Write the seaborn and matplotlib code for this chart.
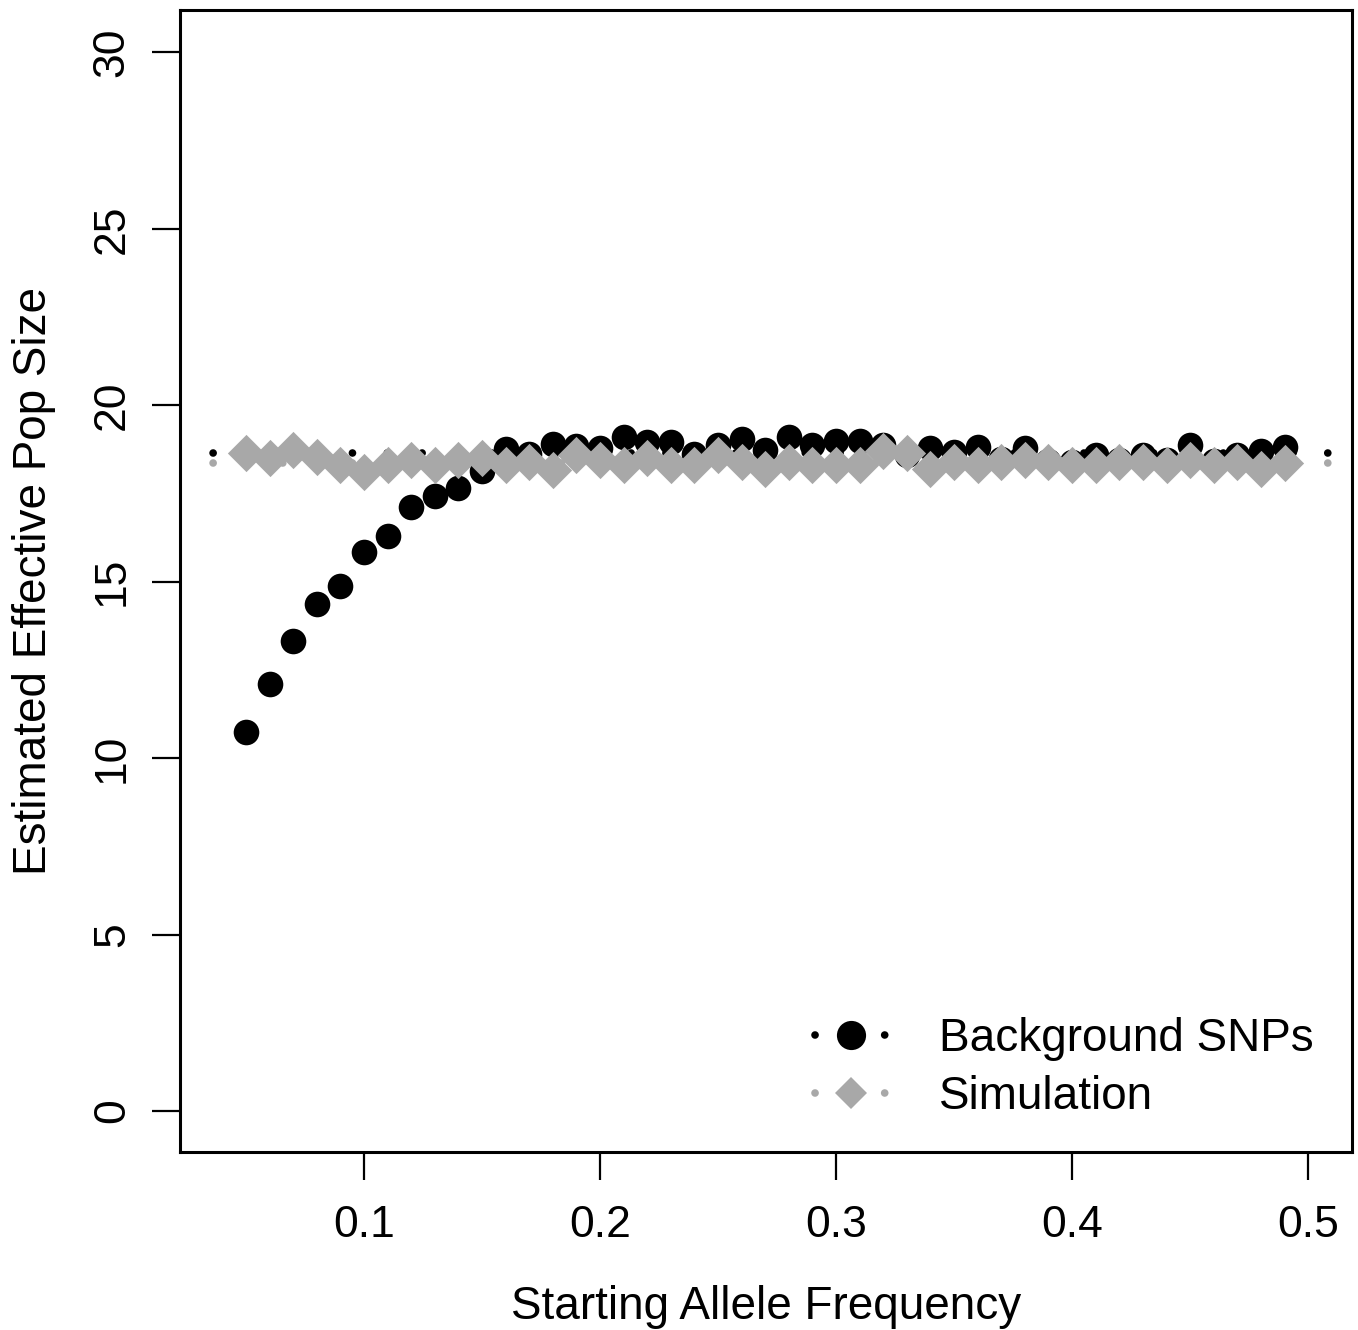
import numpy as np
import pandas as pd
import seaborn as sns
import matplotlib
matplotlib.use("Agg")
from matplotlib import pyplot as plt
from matplotlib.lines import Line2D

# starting allele frequency, 0.05 .. 0.49
freq = [0.05, 0.06, 0.07, 0.08, 0.09, 0.10, 0.11, 0.12, 0.13, 0.14,
        0.15, 0.16, 0.17, 0.18, 0.19, 0.20, 0.21, 0.22, 0.23, 0.24,
        0.25, 0.26, 0.27, 0.28, 0.29, 0.30, 0.31, 0.32, 0.33, 0.34,
        0.35, 0.36, 0.37, 0.38, 0.39, 0.40, 0.41, 0.42, 0.43, 0.44,
        0.45, 0.46, 0.47, 0.48, 0.49]

background = [10.75, 12.1, 13.33, 14.37, 14.88, 15.85, 16.3, 17.12, 17.44, 17.66,
              18.15, 18.75, 18.62, 18.9, 18.85, 18.8, 19.1, 18.97, 18.95, 18.62,
              18.86, 19.03, 18.74, 19.1, 18.86, 19.0, 19.0, 18.86, 18.6, 18.78,
              18.68, 18.81, 18.48, 18.78, 18.43, 18.4, 18.6, 18.45, 18.58, 18.46,
              18.86, 18.43, 18.58, 18.71, 18.81]

simulation = [18.66, 18.5, 18.73, 18.54, 18.3, 18.1, 18.3, 18.44, 18.3, 18.44,
              18.5, 18.3, 18.4, 18.17, 18.6, 18.45, 18.3, 18.5, 18.3, 18.3,
              18.6, 18.4, 18.2, 18.4, 18.3, 18.3, 18.3, 18.7, 18.65, 18.2,
              18.4, 18.3, 18.4, 18.45, 18.4, 18.3, 18.3, 18.4, 18.4, 18.3,
              18.45, 18.3, 18.4, 18.2, 18.35]

# horizontal reference levels (dotted)
bg_level = 18.66
sim_level = 18.37

labels = ["Background SNPs", "Simulation"]
xticks = [0.1, 0.2, 0.3, 0.4, 0.5]
yticks = [0, 5, 10, 15, 20, 25, 30]

GRAY = "#a8a8a8"
DOTS = (0.23, (0.01, 4.55))

df = pd.DataFrame({"freq": freq, "bg": background, "sim": simulation})

sns.set_style("white")
plt.rcParams["font.family"] = ["Liberation Sans", "DejaVu Sans"]
plt.rcParams["text.color"] = "black"
plt.rcParams["axes.labelcolor"] = "black"
plt.rcParams["xtick.color"] = "black"
plt.rcParams["ytick.color"] = "black"

fig = plt.figure(figsize=(13.58, 13.30), dpi=100)
ax = fig.add_axes([180 / 1358, 1 - 1152 / 1330, 1172 / 1358, 1142 / 1330])

ax.axhline(bg_level, color="black", lw=5.5, linestyle=DOTS, dash_capstyle="round", zorder=1)
ax.axhline(sim_level, color=GRAY, lw=5.5, linestyle=DOTS, dash_capstyle="round", zorder=1)

sns.scatterplot(data=df, x="freq", y="bg", ax=ax, color="black", marker="o",
                s=340, linewidth=0, zorder=2, legend=False)
sns.scatterplot(data=df, x="freq", y="sim", ax=ax, color=GRAY, marker="D",
                s=360, linewidth=0, zorder=3, legend=False)

ax.set_xlim(0.022, 0.5186)
ax.set_ylim(-1.16, 31.2)
ax.set_xticks(xticks)
ax.set_xticklabels([str(t) for t in xticks])
ax.set_yticks(yticks)
ax.set_yticklabels([str(t) for t in yticks], rotation=90, va="center")
ax.tick_params(axis="both", direction="out", length=20, width=1.6, labelsize=32,
               color="black", labelcolor="black", bottom=True, left=True)
ax.tick_params(axis="x", pad=18)
ax.tick_params(axis="y", pad=14)

for sp in ax.spines.values():
    sp.set_visible(True)
    sp.set_color("black")
    sp.set_linewidth(2.2)

ax.set_xlabel("Starting Allele Frequency", fontsize=33, labelpad=28)
ax.set_ylabel("Estimated Effective Pop Size", fontsize=33, labelpad=26)

handles = [
    Line2D([], [], color="black", lw=5.5, linestyle=(0, (0.01, 4.55)), dash_capstyle="round",
           marker="o", markersize=21, markeredgewidth=0),
    Line2D([], [], color=GRAY, lw=5.5, linestyle=(0, (0.01, 4.55)), dash_capstyle="round",
           marker="D", markersize=16, markeredgewidth=0),
]
ax.legend(handles, labels, loc="upper left", bbox_to_anchor=(0.542, 0.118),
          frameon=False, fontsize=33, handlelength=1.55, handletextpad=1.15,
          labelspacing=0.3, borderpad=0, borderaxespad=0)

fig.savefig("out.png", dpi=100)
